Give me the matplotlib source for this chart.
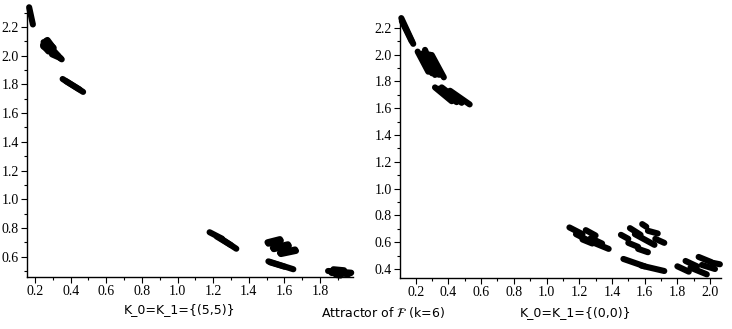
import matplotlib
matplotlib.use("Agg")
import matplotlib.pyplot as plt
from matplotlib.ticker import MultipleLocator

# attractor strokes: start (x0,y0) -> end (x1,y1)
left_x0 = [0.167, 0.248, 0.262, 0.246, 0.300, 0.295, 0.255, 0.265, 0.310,
           0.245, 0.270,
           0.355, 0.375,
           1.180, 1.245, 1.220,
           1.505, 1.510, 1.535, 1.540, 1.575, 1.580,
           1.510, 1.520,
           1.845, 1.865, 1.875, 1.890, 1.860]
left_y0 = [2.338, 2.095, 2.105, 2.065, 2.035, 2.010, 2.080, 2.090, 2.020,
           2.075, 2.110,
           1.838, 1.822,
           0.770, 0.725, 0.740,
           0.700, 0.690, 0.662, 0.652, 0.626, 0.618,
           0.567, 0.560,
           0.500, 0.486, 0.512, 0.472, 0.495]
left_x1 = [0.188, 0.300, 0.305, 0.290, 0.350, 0.340, 0.310, 0.330, 0.345,
           0.275, 0.300,
           0.470, 0.450,
           1.250, 1.330, 1.300,
           1.575, 1.580, 1.620, 1.625, 1.660, 1.665,
           1.650, 1.600,
           1.975, 1.960, 1.935, 1.915, 1.970]
left_y1 = [2.218, 2.035, 2.055, 2.025, 1.975, 1.985, 2.020, 2.000, 1.980,
           2.030, 2.060,
           1.748, 1.765,
           0.725, 0.655, 0.680,
           0.722, 0.712, 0.686, 0.676, 0.650, 0.640,
           0.512, 0.530,
           0.488, 0.478, 0.505, 0.468, 0.484]

right_x0 = [0.112, 0.115,
            0.212, 0.257, 0.298, 0.230, 0.270, 0.245, 0.285,
            0.318, 0.359, 0.410, 0.340,
            1.140, 1.240, 1.180, 1.270, 1.220, 1.300,
            1.455, 1.510, 1.585, 1.540, 1.620, 1.665, 1.500, 1.560,
            1.470, 1.580,
            1.800, 1.850, 1.880, 1.930, 1.950, 2.020]
right_y0 = [2.272, 2.250,
            2.022, 2.035, 1.997, 2.000, 1.990, 2.010, 2.000,
            1.755, 1.755, 1.730, 1.745,
            0.710, 0.690, 0.660, 0.630, 0.620, 0.590,
            0.655, 0.705, 0.735, 0.660, 0.685, 0.625, 0.595, 0.550,
            0.475, 0.425,
            0.420, 0.460, 0.410, 0.490, 0.430, 0.445]
right_x1 = [0.185, 0.175,
            0.277, 0.318, 0.372, 0.300, 0.340, 0.310, 0.350,
            0.420, 0.481, 0.530, 0.450,
            1.220, 1.300, 1.260, 1.340, 1.280, 1.380,
            1.500, 1.575, 1.610, 1.660, 1.680, 1.720, 1.560, 1.620,
            1.600, 1.720,
            1.870, 1.920, 1.980, 2.010, 2.030, 2.060]
right_y1 = [2.080, 2.100,
            1.872, 1.848, 1.830, 1.860, 1.850, 1.870, 1.850,
            1.652, 1.640, 1.628, 1.645,
            0.660, 0.650, 0.610, 0.590, 0.590, 0.550,
            0.625, 0.655, 0.715, 0.580, 0.665, 0.595, 0.565, 0.525,
            0.420, 0.385,
            0.380, 0.420, 0.360, 0.450, 0.400, 0.435]

left_ticks = [0.2, 0.4, 0.6, 0.8, 1.0, 1.2, 1.4, 1.6, 1.8]
right_ticks = [0.2, 0.4, 0.6, 0.8, 1.0, 1.2, 1.4, 1.6, 1.8, 2.0]
left_yticks = [0.6, 0.8, 1.0, 1.2, 1.4, 1.6, 1.8, 2.0, 2.2]
right_yticks = [0.4, 0.6, 0.8, 1.0, 1.2, 1.4, 1.6, 1.8, 2.0, 2.2]

fig = plt.figure(figsize=(7.32, 3.29), dpi=100)
axL = fig.add_axes([27/732, 1-277/329, 326/732, 268.6/329])
axR = fig.add_axes([400/732, 1-277.7/329, 320.7/732, 262/329])


def draw(ax, x0, y0, x1, y1, xt, yt, xlim, ylim):
    for a, b, c, d in zip(x0, y0, x1, y1):
        ax.plot([a, c], [b, d], color="black", lw=4.4, solid_capstyle="round",
                clip_on=False)
    ax.set_xlim(*xlim)
    ax.set_ylim(*ylim)
    ax.set_xticks(xt)
    ax.set_yticks(yt)
    ax.set_xticklabels([f"{v:.1f}" for v in xt])
    ax.set_yticklabels([f"{v:.1f}" for v in yt])
    ax.xaxis.set_minor_locator(MultipleLocator(0.1))
    ax.yaxis.set_minor_locator(MultipleLocator(0.1))
    for s in ("top", "right"):
        ax.spines[s].set_visible(False)
    for s in ("left", "bottom"):
        ax.spines[s].set_linewidth(1.0)
    ax.tick_params(which="major", length=4, width=0.8, pad=2,
                   labelsize=10, labelfontfamily="Liberation Serif")
    ax.tick_params(which="minor", length=2.5, width=0.8)


draw(axL, left_x0, left_y0, left_x1, left_y1, left_ticks, left_yticks,
     (0.155, 1.985), (0.458, 2.33))
draw(axR, right_x0, right_y0, right_x1, right_y1, right_ticks, right_yticks,
     (0.104, 2.065), (0.335, 2.29))

fig.text(180/732, 1-310/329, "K_0=K_1={(5,5)}", ha="center", va="center", fontsize=9)
fig.text(383/732, 1-313/329, r"Attractor of $\mathcal{F}$ (k=6)", ha="center", va="center", fontsize=9)
fig.text(576/732, 1-313/329, "K_0=K_1={(0,0)}", ha="center", va="center", fontsize=9)

fig.savefig("out.png", dpi=100)
